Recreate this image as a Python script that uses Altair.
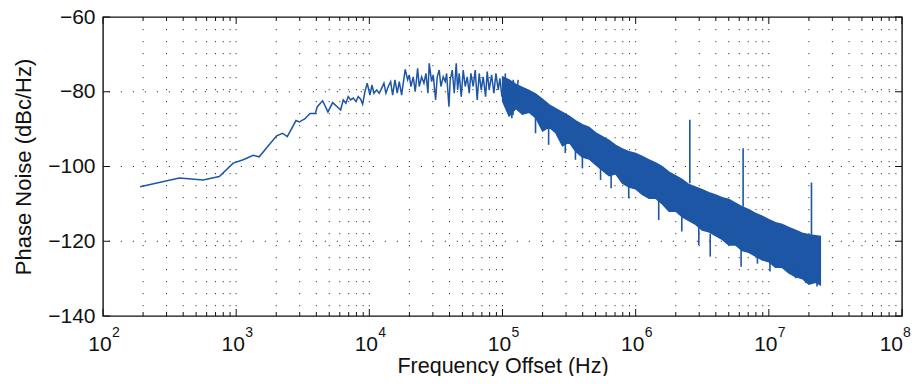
import altair as alt
import pandas as pd

# ---------------- data ----------------
# sparse / noisy part of the trace (Hz, dBc/Hz)
low_f = [190, 374, 566, 747, 950, 1130, 1343, 1489, 2012, 2232,
         2420, 2812, 2980, 3289, 3584, 3929, 4066, 4460, 4888, 5300,
         5842, 6085, 6368, 6675, 6943, 7237, 7570, 7933, 8253, 8603,
         8907, 9268, 9643, 10104, 10459, 10826, 11343, 11866, 12370, 12872,
         13324, 13867, 14454, 14962, 15572, 16200, 16773, 17482, 17972, 18604,
         19391, 19934, 20531, 21365, 22116, 23052, 23698, 24701, 25704, 26607,
         27542, 28170, 29362, 30185, 31465, 32350, 33487, 34482, 35883, 37144,
         38053, 39600, 40496, 41925, 43400, 44930, 46030, 47320, 48980, 50700,
         52490, 54330, 56230, 57920, 60260, 62370, 64570, 66850, 69200, 71630,
         74670, 76770, 79470, 82830, 86200, 89240, 92850, 95610, 98970, 102450,
         106050, 110340, 115000, 117650, 120330, 126050, 131200]
low_v = [-105.4, -103.1, -103.6, -102.7, -99.1, -98.2, -97.0, -97.4, -91.8, -91.1,
         -92.0, -87.7, -88.1, -87.2, -85.8, -85.8, -84.0, -82.4, -85.4, -82.9,
         -84.3, -84.9, -82.2, -83.1, -81.3, -82.2, -81.7, -82.6, -81.3, -82.0,
         -83.3, -80.0, -77.7, -80.9, -78.2, -80.4, -79.5, -80.4, -79.1, -77.7,
         -80.4, -78.6, -77.3, -80.9, -76.8, -80.4, -77.3, -80.9, -77.7, -74.0,
         -76.8, -75.5, -78.6, -76.0, -80.0, -73.7, -78.6, -76.0, -77.7, -75.1,
         -80.4, -72.4, -77.3, -75.5, -82.2, -76.0, -74.2, -78.6, -76.0, -77.3,
         -75.1, -84.0, -76.8, -74.2, -80.4, -72.4, -79.5, -75.1, -81.3, -74.2,
         -78.6, -76.0, -80.4, -75.1, -78.6, -74.2, -82.2, -75.1, -79.5, -76.0,
         -81.3, -74.6, -79.5, -75.5, -80.4, -75.1, -79.5, -76.4, -81.3, -76.8,
         -82.2, -76.8, -83.1, -87.1, -76.8, -82.2, -76.8]

# dense band (upper / lower envelope of the trace)
band_f = [1.00e5, 1.12e5, 1.26e5, 1.41e5, 1.58e5, 1.78e5, 2.00e5, 2.24e5, 2.51e5, 2.82e5,
          3.16e5, 3.55e5, 3.98e5, 4.47e5, 5.01e5, 5.62e5, 6.31e5, 7.08e5, 7.94e5, 8.91e5,
          1.00e6, 1.12e6, 1.26e6, 1.41e6, 1.58e6, 1.78e6, 2.00e6, 2.24e6, 2.51e6, 2.82e6,
          3.16e6, 3.55e6, 3.98e6, 4.47e6, 5.01e6, 5.62e6, 6.31e6, 7.08e6, 7.94e6, 8.91e6,
          1.00e7, 1.12e7, 1.26e7, 1.41e7, 1.58e7, 1.78e7, 2.00e7, 2.24e7, 2.44e7]
band_hi = [-76.0, -76.8, -78.0, -78.8, -79.6, -80.6, -82.0, -83.5, -84.5, -85.5,
           -86.5, -87.8, -88.8, -89.5, -91.0, -92.0, -93.0, -94.3, -95.3, -96.0,
           -96.5, -97.3, -98.2, -99.0, -100.0, -101.5, -102.5, -103.5, -104.8, -105.5,
           -106.2, -107.0, -107.6, -108.3, -108.8, -109.8, -110.8, -111.5, -112.5, -113.3,
           -114.2, -115.0, -115.5, -116.3, -117.0, -117.8, -118.2, -118.5, -118.7]
band_lo = [-82.5, -86.5, -84.5, -86.0, -85.5, -87.0, -90.5, -89.5, -91.0, -94.5,
           -93.5, -96.0, -97.5, -98.0, -99.5, -101.0, -102.5, -102.0, -104.5, -105.5,
           -106.0, -107.5, -108.5, -108.5, -110.0, -112.0, -112.0, -113.5, -114.5, -115.5,
           -117.0, -117.5, -118.5, -119.5, -121.0, -121.0, -122.5, -123.0, -124.0, -125.0,
           -125.5, -127.0, -127.0, -128.5, -129.5, -130.0, -131.5, -131.0, -131.7]

# individual noise excursions out of the band (tip, root)
jag_f = [1.05e5, 1.20e5, 1.77e5, 2.22e5, 2.96e5, 3.53e5, 3.98e5, 5.45e5, 6.54e5,
         8.87e5, 1.49e6, 2.22e6, 2.98e6, 3.63e6, 6.19e6, 8.21e6, 1.02e7, 1.59e7, 1.89e7, 2.30e7]
jag_tip = [-75.1, -86.2, -91.1, -94.2, -96.4, -98.2, -100.5, -103.6, -105.8,
           -108.5, -114.3, -117.4, -121.0, -124.1, -126.8, -126.0, -128.1, -129.9, -131.2, -132.1]
jag_root = [-78.0, -84.0, -86.0, -89.0, -93.0, -95.0, -96.0, -100.0, -101.0,
            -104.0, -109.0, -112.0, -116.0, -118.0, -122.0, -123.0, -124.0, -126.0, -128.0, -129.0]

# spurs
spur_f = [2.55e6, 6.41e6, 2.09e7]
spur_top = [-87.5, -95.1, -104.3]
spur_base = [-104.5, -110.8, -118.3]

# axes
decades = [1e2, 1e3, 1e4, 1e5, 1e6, 1e7, 1e8]
mantissa = ["10", "10", "10", "10", "10", "10", "10"]
exponents = ["2", "3", "4", "5", "6", "7", "8"]
minor_x = [m * d for d in [1e2, 1e3, 1e4, 1e5, 1e6, 1e7] for m in range(2, 10)]
y_ticks = [-140, -120, -100, -80, -60]
y_grid = [-120, -100, -80]

# ---------------- chart ----------------
W, H = 799, 299
COLOR = "#1d56a5"
FONT = "Liberation Sans"
GRID = "#3a3a3a"
TXT = "#111111"

xs = alt.Scale(type="log", domain=[1e2, 1e8], nice=False)
ys = alt.Scale(domain=[-140, -60], nice=False, zero=False)

xaxis = alt.Axis(values=decades, labels=False, ticks=False, tickSize=0,
                 domain=False, grid=False, title="Frequency Offset (Hz)",
                 titleFont=FONT, titleFontSize=21.5, titleFontWeight="normal",
                 titleColor=TXT, titlePadding=39)
yaxis = alt.Axis(values=y_ticks, ticks=False, tickSize=0, domain=False, grid=False,
                 labelFontSize=21, labelPadding=8, labelFont=FONT, labelColor=TXT,
                 title="Phase Noise (dBc/Hz)", titleFont=FONT, titleFontSize=22,
                 titleFontWeight="normal", titleColor=TXT, titlePadding=12)

X = alt.X("f:Q", scale=xs, axis=xaxis)
Y = alt.Y("v:Q", scale=ys, axis=yaxis)

low_df = pd.DataFrame({"f": low_f, "v": low_v})
band_df = pd.DataFrame({"f": band_f, "v": band_hi, "lo": band_lo})
jag_df = pd.DataFrame({"f": jag_f, "v": jag_tip, "root": jag_root})
spur_df = pd.DataFrame({"f": spur_f, "v": spur_top, "base": spur_base})
vgrid_df = pd.DataFrame({"f": minor_x + decades[1:-1]})
hgrid_df = pd.DataFrame({"v": y_grid})
major_df = pd.DataFrame({"f": decades, "m": mantissa, "e": exponents})
inner_lab = major_df.iloc[:-1]
last_lab = major_df.iloc[-1:]
minor_df = pd.DataFrame({"f": minor_x})
ytick_df = pd.DataFrame({"v": y_ticks})

dash = [1.2, 10.8]
vgrid = alt.Chart(vgrid_df).mark_rule(stroke=GRID, strokeWidth=1, strokeDash=dash).encode(x=X)
hgrid = alt.Chart(hgrid_df).mark_rule(stroke=GRID, strokeWidth=1, strokeDash=dash).encode(y=Y)

band = alt.Chart(band_df).mark_area(color=COLOR, opacity=1, stroke=COLOR, strokeWidth=1.3).encode(
    x=X, y=Y, y2="lo:Q")
line = alt.Chart(low_df).mark_line(color=COLOR, strokeWidth=1.5).encode(x=X, y=Y)
jags = alt.Chart(jag_df).mark_rule(color=COLOR, strokeWidth=1.6).encode(x=X, y=Y, y2="root:Q")
spurs = alt.Chart(spur_df).mark_rule(color=COLOR, strokeWidth=1.6).encode(x=X, y=Y, y2="base:Q")

bmaj = alt.Chart(major_df).mark_rule(color=TXT, strokeWidth=1).encode(
    x=X, y=alt.value(H), y2=alt.value(H - 7))
tmaj = alt.Chart(major_df).mark_rule(color=TXT, strokeWidth=1).encode(
    x=X, y=alt.value(0), y2=alt.value(7))
bmin = alt.Chart(minor_df).mark_rule(color=TXT, strokeWidth=1).encode(
    x=X, y=alt.value(H), y2=alt.value(H - 4))
tmin = alt.Chart(minor_df).mark_rule(color=TXT, strokeWidth=1).encode(
    x=X, y=alt.value(0), y2=alt.value(4))
lt = alt.Chart(ytick_df).mark_rule(color=TXT, strokeWidth=1).encode(
    y=Y, x=alt.value(0), x2=alt.value(7))
rt = alt.Chart(ytick_df).mark_rule(color=TXT, strokeWidth=1).encode(
    y=Y, x=alt.value(W), x2=alt.value(W - 7))

base10 = alt.Chart(inner_lab).mark_text(align="center", baseline="top", font=FONT, fontSize=21,
                                        color=TXT, dx=-3, dy=18).encode(
    x=X, y=alt.value(H), text="m:N")
expo = alt.Chart(inner_lab).mark_text(align="left", baseline="top", font=FONT, fontSize=14,
                                      color=TXT, dx=9, dy=10).encode(
    x=X, y=alt.value(H), text="e:N")
base10_last = alt.Chart(last_lab).mark_text(align="right", baseline="top", font=FONT, fontSize=21,
                                            color=TXT, dx=1, dy=18).encode(
    x=X, y=alt.value(H), text="m:N")
expo_last = alt.Chart(last_lab).mark_text(align="left", baseline="top", font=FONT, fontSize=14,
                                          color=TXT, dx=1, dy=10).encode(
    x=X, y=alt.value(H), text="e:N")

chart = alt.layer(vgrid, hgrid, band, line, jags, spurs, bmaj, tmaj, bmin, tmin, lt, rt,
                  base10, expo, base10_last, expo_last).properties(
    width=W, height=H,
    autosize=alt.AutoSizeParams(type="none"),
    padding={"left": 95, "top": 9, "right": 10, "bottom": 60},
    background="white",
).configure_view(stroke=TXT, strokeWidth=1.4)

chart.save("out.html", embed_options={"renderer": "svg", "actions": False})
